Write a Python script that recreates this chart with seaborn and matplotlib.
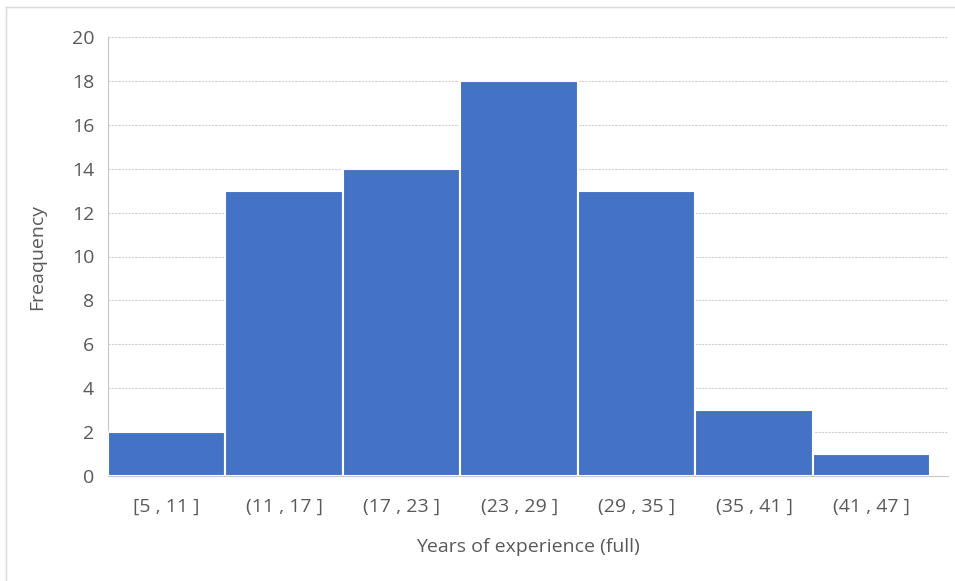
import matplotlib
matplotlib.use("Agg")
import matplotlib.pyplot as plt
import seaborn as sns
import pandas as pd
from matplotlib.lines import Line2D

categories = ["[5 , 11 ]", "(11 , 17 ]", "(17 , 23 ]", "(23 , 29 ]", "(29 , 35 ]", "(35 , 41 ]", "(41 , 47 ]"]
counts = [2, 13, 14, 18, 13, 3, 1]
yticks = [0, 2, 4, 6, 8, 10, 12, 14, 16, 18, 20]

df = pd.DataFrame({"bin": categories, "count": counts})

sns.set_theme(style="white")
plt.rcParams["font.family"] = ["Open Sans", "DejaVu Sans"]

fig = plt.figure(figsize=(9.55, 5.81), dpi=100)
ax = fig.add_axes([108/955, 1-476/581, (948-108)/955, (476-37)/581])

sns.barplot(data=df, x="bin", y="count", ax=ax, color="#4472C4", saturation=1,
            width=1.0, edgecolor="white", linewidth=1.5, zorder=3)

ax.set_ylim(0, 20)
ax.set_xlim(-0.5, 6.65)
ax.set_yticks(yticks)
ax.set_yticklabels([str(v) for v in yticks])
ax.yaxis.grid(True, color="#d0d0d0", linestyle=(0, (2, 1)), linewidth=0.8, zorder=0)
ax.set_axisbelow(True)
for s in ["top", "right"]:
    ax.spines[s].set_visible(False)
for s in ["left", "bottom"]:
    ax.spines[s].set_color("#c8c8c8")
    ax.spines[s].set_linestyle((0, (2, 1)))
    ax.spines[s].set_linewidth(0.8)
fs = 14
ax.tick_params(axis="both", length=0, labelsize=fs, labelcolor="#595959")
ax.tick_params(axis="x", pad=16)
ax.tick_params(axis="y", pad=10)
ax.set_xlabel("Years of experience (full)", fontsize=fs, color="#595959", labelpad=16)
ax.set_ylabel("Freaquency", fontsize=fs, color="#595959", labelpad=18)

# chart area border (left & top visible)
fig.add_artist(Line2D([6/955, 6/955], [1-7/581, 0], transform=fig.transFigure, color="#d9d9d9", linewidth=1))
fig.add_artist(Line2D([6/955, 1], [1-7/581, 1-7/581], transform=fig.transFigure, color="#d9d9d9", linewidth=1))

fig.savefig("out.png", dpi=100)
